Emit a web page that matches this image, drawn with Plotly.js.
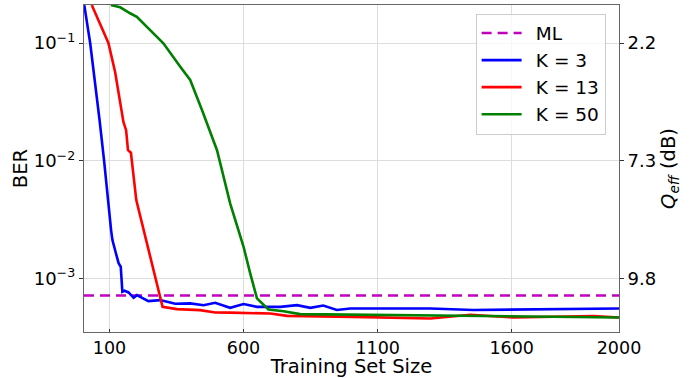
<!DOCTYPE html>
<html>
<head>
<meta charset="utf-8">
<script src="https://cdn.plot.ly/plotly-3.0.1.min.js"></script>
<style>html,body{margin:0;padding:0;background:#fff}#chart{width:689px;height:378px}</style>
</head>
<body>
<div id="chart"></div>
<script>
// ---- data ----
var seriesNames = ['ML', 'K = 3', 'K = 13', 'K = 50'];

var mlX = [5, 2000];
var mlY = [7.17e-4, 7.17e-4];

var k3X = [6, 28, 63, 80, 106, 111, 124, 134, 142, 148, 156, 171, 190, 202, 245, 289, 345, 401, 451, 494, 550, 600, 650, 737, 799, 849, 897, 948, 998, 1297, 1457, 2000];
var k3Y = [0.21, 0.1, 0.0222, 0.01, 2.58e-3, 2.12e-3, 1.64e-3, 1.35e-3, 1.26e-3, 7.71e-4, 7.87e-4, 7.62e-4, 6.86e-4, 7.23e-4, 6.43e-4, 6.56e-4, 6.10e-4, 6.15e-4, 5.94e-4, 6.22e-4, 5.64e-4, 6.07e-4, 5.75e-4, 5.75e-4, 5.94e-4, 5.64e-4, 5.90e-4, 5.40e-4, 5.57e-4, 5.57e-4, 5.40e-4, 5.57e-4];

var k13X = [34, 96, 121, 140, 152, 162, 169, 180, 200, 298, 351, 438, 494, 550, 700, 762, 923, 1009, 1297, 1446, 1606, 1905, 2000];
var k13Y = [0.21, 0.1, 0.0567, 0.0328, 0.0214, 0.0182, 0.0123, 0.0117, 4.64e-3, 5.75e-4, 5.50e-4, 5.39e-4, 5.15e-4, 5.13e-4, 5.05e-4, 4.82e-4, 4.80e-4, 4.73e-4, 4.58e-4, 4.92e-4, 4.67e-4, 4.80e-4, 4.67e-4];

var k50X = [105, 140, 177, 202, 289, 301, 364, 401, 445, 501, 550, 600, 625, 650, 693, 749, 811, 923, 1297, 1446, 2000];
var k50Y = [0.21, 0.201, 0.179, 0.167, 0.106, 0.0994, 0.0629, 0.0486, 0.027, 0.0123, 4.35e-3, 1.86e-3, 1.10e-3, 6.78e-4, 5.46e-4, 5.28e-4, 4.99e-4, 4.96e-4, 4.82e-4, 4.82e-4, 4.67e-4];

var xTickVals = [100, 600, 1100, 1600, 2000];
var yTickVals = [1e-1, 1e-2, 1e-3];
var yTickText = ['10<sup>\u22121</sup>', '10<sup>\u22122</sup>', '10<sup>\u22123</sup>'];
var qTickText = ['2.2', '7.3', '9.8'];

// ---- chart ----
var FONT = 'DejaVu Sans, sans-serif';
var lw = 2.6;
var pad = '\u2002';
var traces = [
  {x: mlX, y: mlY, name: pad + seriesNames[0], mode: 'lines', legendgroup: 'a',
   line: {color: '#bf00bf', width: lw, dash: '10px,6px'}},
  {x: k3X, y: k3Y, name: pad + seriesNames[1], mode: 'lines', legendgroup: 'b',
   line: {color: '#0000ff', width: lw}},
  {x: k13X, y: k13Y, name: pad + seriesNames[2], mode: 'lines', legendgroup: 'c',
   line: {color: '#ff0000', width: lw}},
  {x: k50X, y: k50Y, name: pad + seriesNames[3], mode: 'lines', legendgroup: 'd',
   line: {color: '#008000', width: lw}},
  {x: [mlX[0]], y: [mlY[0]], yaxis: 'y2', mode: 'lines', showlegend: false,
   hoverinfo: 'skip', line: {color: 'rgba(0,0,0,0)'}}
];

var yRange = [-3.454, -0.677];
var layout = {
  width: 689, height: 378,
  margin: {l: 84, r: 70, t: 5, b: 46},
  paper_bgcolor: '#fff', plot_bgcolor: '#fff',
  font: {family: FONT, size: 18, color: '#000'},
  showlegend: true,
  legend: {
    x: 0.732, y: 0.974, xanchor: 'left', yanchor: 'top',
    bgcolor: 'rgba(255,255,255,0.8)', bordercolor: '#cccccc', borderwidth: 1,
    font: {family: FONT, size: 18.5}, traceorder: 'grouped', tracegroupgap: 0,
    itemwidth: 40
  },
  xaxis: {
    range: [5, 2000], tickvals: xTickVals, ticktext: xTickVals.map(String),
    showgrid: true, gridcolor: '#dddddd', gridwidth: 1,
    showline: true, linecolor: '#666', linewidth: 1.2, mirror: true,
    ticks: 'inside', ticklen: 3, tickcolor: '#333',
    tickfont: {size: 17.5}, zeroline: false,
    title: {text: 'Training Set Size', font: {size: 19.5}, standoff: 3}
  },
  yaxis: {
    type: 'log', range: yRange, tickvals: yTickVals, ticktext: yTickText,
    showgrid: true, gridcolor: '#dddddd', gridwidth: 1,
    showline: true, linecolor: '#666', linewidth: 1.2, mirror: true,
    ticks: 'outside', ticklen: 4, tickcolor: '#333',
    tickfont: {size: 18}, zeroline: false,
    title: {text: 'BER', font: {size: 19.5}, standoff: 0}
  },
  yaxis2: {
    type: 'log', range: yRange, overlaying: 'y', side: 'right',
    tickvals: yTickVals, ticktext: qTickText,
    showgrid: false, showline: false, zeroline: false,
    ticks: 'outside', ticklen: 4, tickcolor: '#333',
    tickfont: {size: 18},
    title: {text: '<i>Q</i><sub><i>eff</i></sub> (dB)', font: {size: 19.5}, standoff: 6}
  }
};

Plotly.newPlot('chart', traces, layout, {staticPlot: true, displayModeBar: false});
</script>
</body>
</html>
